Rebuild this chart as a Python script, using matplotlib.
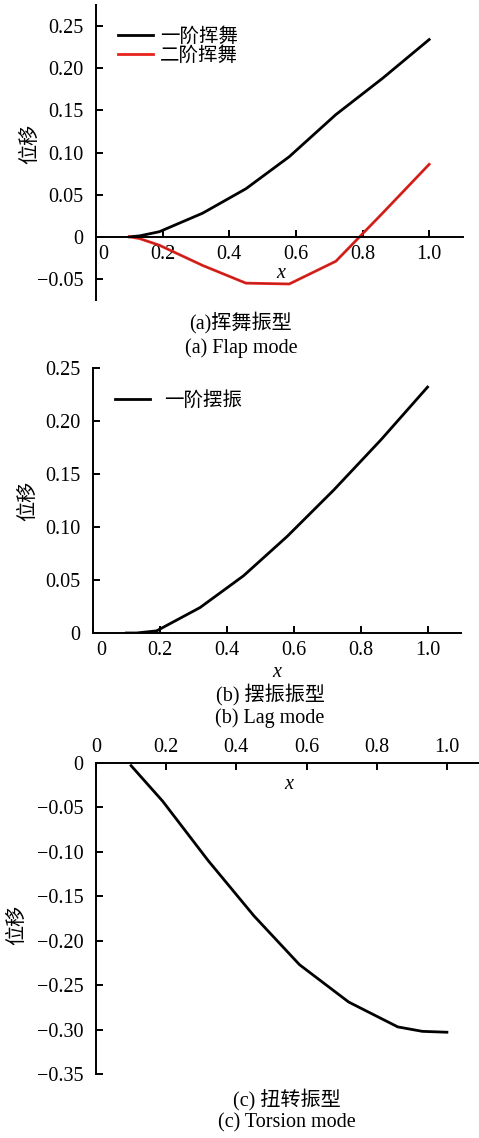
"""Rotor blade mode shapes: flap, lag and torsion (three stacked panels)."""

import matplotlib
matplotlib.use("Agg")
import matplotlib.pyplot as plt
from matplotlib.transforms import ScaledTranslation

plt.rcParams["font.family"] = ["Liberation Serif", "Noto Sans CJK SC"]
plt.rcParams["font.size"] = 14.5
plt.rcParams["axes.linewidth"] = 1.4

W, H = 479, 1138

# --- data ---
x_nodes = [0.10, 0.13, 0.19, 0.32, 0.45, 0.58, 0.72, 0.86, 1.00]
flap_1 = [0.0, 0.001, 0.006, 0.028, 0.057, 0.095, 0.145, 0.188, 0.234]
flap_2 = [0.0, -0.002, -0.010, -0.034, -0.055, -0.056, -0.029, 0.028, 0.086]
lag_1 = [0.0, 0.0, 0.002, 0.024, 0.054, 0.091, 0.135, 0.182, 0.232]
tors_x = [0.10, 0.19, 0.32, 0.45, 0.58, 0.72, 0.86, 0.93, 1.00]
tors_1 = [-0.003, -0.043, -0.110, -0.172, -0.227, -0.269, -0.297, -0.302, -0.303]

x_ticks = [0, 0.2, 0.4, 0.6, 0.8, 1.0]
x_labels = ["0", "0.2", "0.4", "0.6", "0.8", "1.0"]
flap_yticks = [-0.05, 0, 0.05, 0.10, 0.15, 0.20, 0.25]
lag_yticks = [0, 0.05, 0.10, 0.15, 0.20, 0.25]
tors_yticks = [0, -0.05, -0.10, -0.15, -0.20, -0.25, -0.30, -0.35]


def ylab(v):
    # real minus sign like the printed figure
    return "0" if v == 0 else f"{v:.2f}".replace("-", "\u2212")


def px_axes(left, right, top, bottom):
    return fig.add_axes([left / W, 1 - bottom / H, (right - left) / W, (bottom - top) / H])


def style(ax):
    ax.tick_params(direction="in", length=5, width=1.4, labelsize=14.5)
    ax.tick_params(axis="y", pad=9)
    ax.tick_params(axis="x", pad=6)
    ax.spines["right"].set_visible(False)


def shift_zero_label(ax, dx):
    lbl = ax.get_xticklabels()[0]
    lbl.set_transform(lbl.get_transform() + ScaledTranslation(dx / 100, 0, fig.dpi_scale_trans))


fig = plt.figure(figsize=(W / 100, H / 100), dpi=100)

# --- (a) flap mode ---
ax1 = px_axes(96, 462.5, 5, 300)
ax1.plot(x_nodes, flap_1, color="black", lw=2.0, label="一阶挥舞")
ax1.plot(x_nodes, flap_2, color="#e8231e", lw=2.0, label="二阶挥舞")
ax1.plot(x_nodes, flap_2, color="#5a1a14", lw=0.5, alpha=0.5)
ax1.set_xlim(0, 1.1)
ax1.set_ylim(-0.075, 0.275)
ax1.spines["top"].set_visible(False)
ax1.spines["bottom"].set_position(("data", 0))
style(ax1)
ax1.set_xticks(x_ticks, x_labels)
ax1.set_yticks(flap_yticks, [ylab(v) for v in flap_yticks])
shift_zero_label(ax1, 7)
ax1.set_ylabel("位移")
ax1.yaxis.set_label_coords(-0.153, 0.53)
ax1.text(0.505, 0.09, "x", transform=ax1.transAxes, style="italic", ha="center", va="center")
ax1.legend(loc="upper left", bbox_to_anchor=(0.04, 0.95), frameon=False, fontsize=14,
           handlelength=1.8, handletextpad=0.35, labelspacing=0.0, borderaxespad=0)
fig.text(240 / W, 1 - 323 / H, "(a)挥舞振型", ha="center", va="center")
fig.text(241 / W, 1 - 348 / H, "(a) Flap mode", ha="center", va="center")

# --- (b) lag mode ---
ax2 = px_axes(93, 461, 368, 633)
ax2.plot(x_nodes, lag_1, color="black", lw=2.0, label="一阶摆振")
ax2.set_xlim(0, 1.1)
ax2.set_ylim(0, 0.25)
ax2.spines["top"].set_visible(False)
style(ax2)
ax2.set_xticks(x_ticks, x_labels)
ax2.set_yticks(lag_yticks, [ylab(v) for v in lag_yticks])
shift_zero_label(ax2, 8)
ax2.set_ylabel("位移")
ax2.yaxis.set_label_coords(-0.15, 0.5)
ax2.set_xlabel("x", style="italic", labelpad=2)
ax2.legend(loc="upper left", bbox_to_anchor=(0.04, 0.942), frameon=False, fontsize=14,
           handlelength=1.8, handletextpad=0.7, borderaxespad=0)
fig.text(270 / W, 1 - 695 / H, "(b) 摆振振型", ha="center", va="center")
fig.text(270 / W, 1 - 718 / H, "(b) Lag mode", ha="center", va="center")

# --- (c) torsion mode ---
ax3 = px_axes(96, 482, 763, 1074)
ax3.plot(tors_x, tors_1, color="black", lw=2.0)
ax3.set_xlim(0, 1.1)
ax3.set_ylim(-0.35, 0)
ax3.spines["bottom"].set_visible(False)
style(ax3)
ax3.xaxis.tick_top()
ax3.tick_params(axis="x", direction="in", pad=4)
ax3.set_xticks(x_ticks, x_labels)
ax3.set_yticks(tors_yticks, [ylab(v) for v in tors_yticks])
ax3.set_ylabel("位移")
ax3.yaxis.set_label_coords(-0.179, 0.48)
ax3.text(0.5, 0.93, "x", transform=ax3.transAxes, style="italic", ha="center", va="center")
fig.text(287 / W, 1 - 1100 / H, "(c) 扭转振型", ha="center", va="center")
fig.text(287 / W, 1 - 1123 / H, "(c) Torsion mode", ha="center", va="center")

fig.savefig("out.png", dpi=100)
